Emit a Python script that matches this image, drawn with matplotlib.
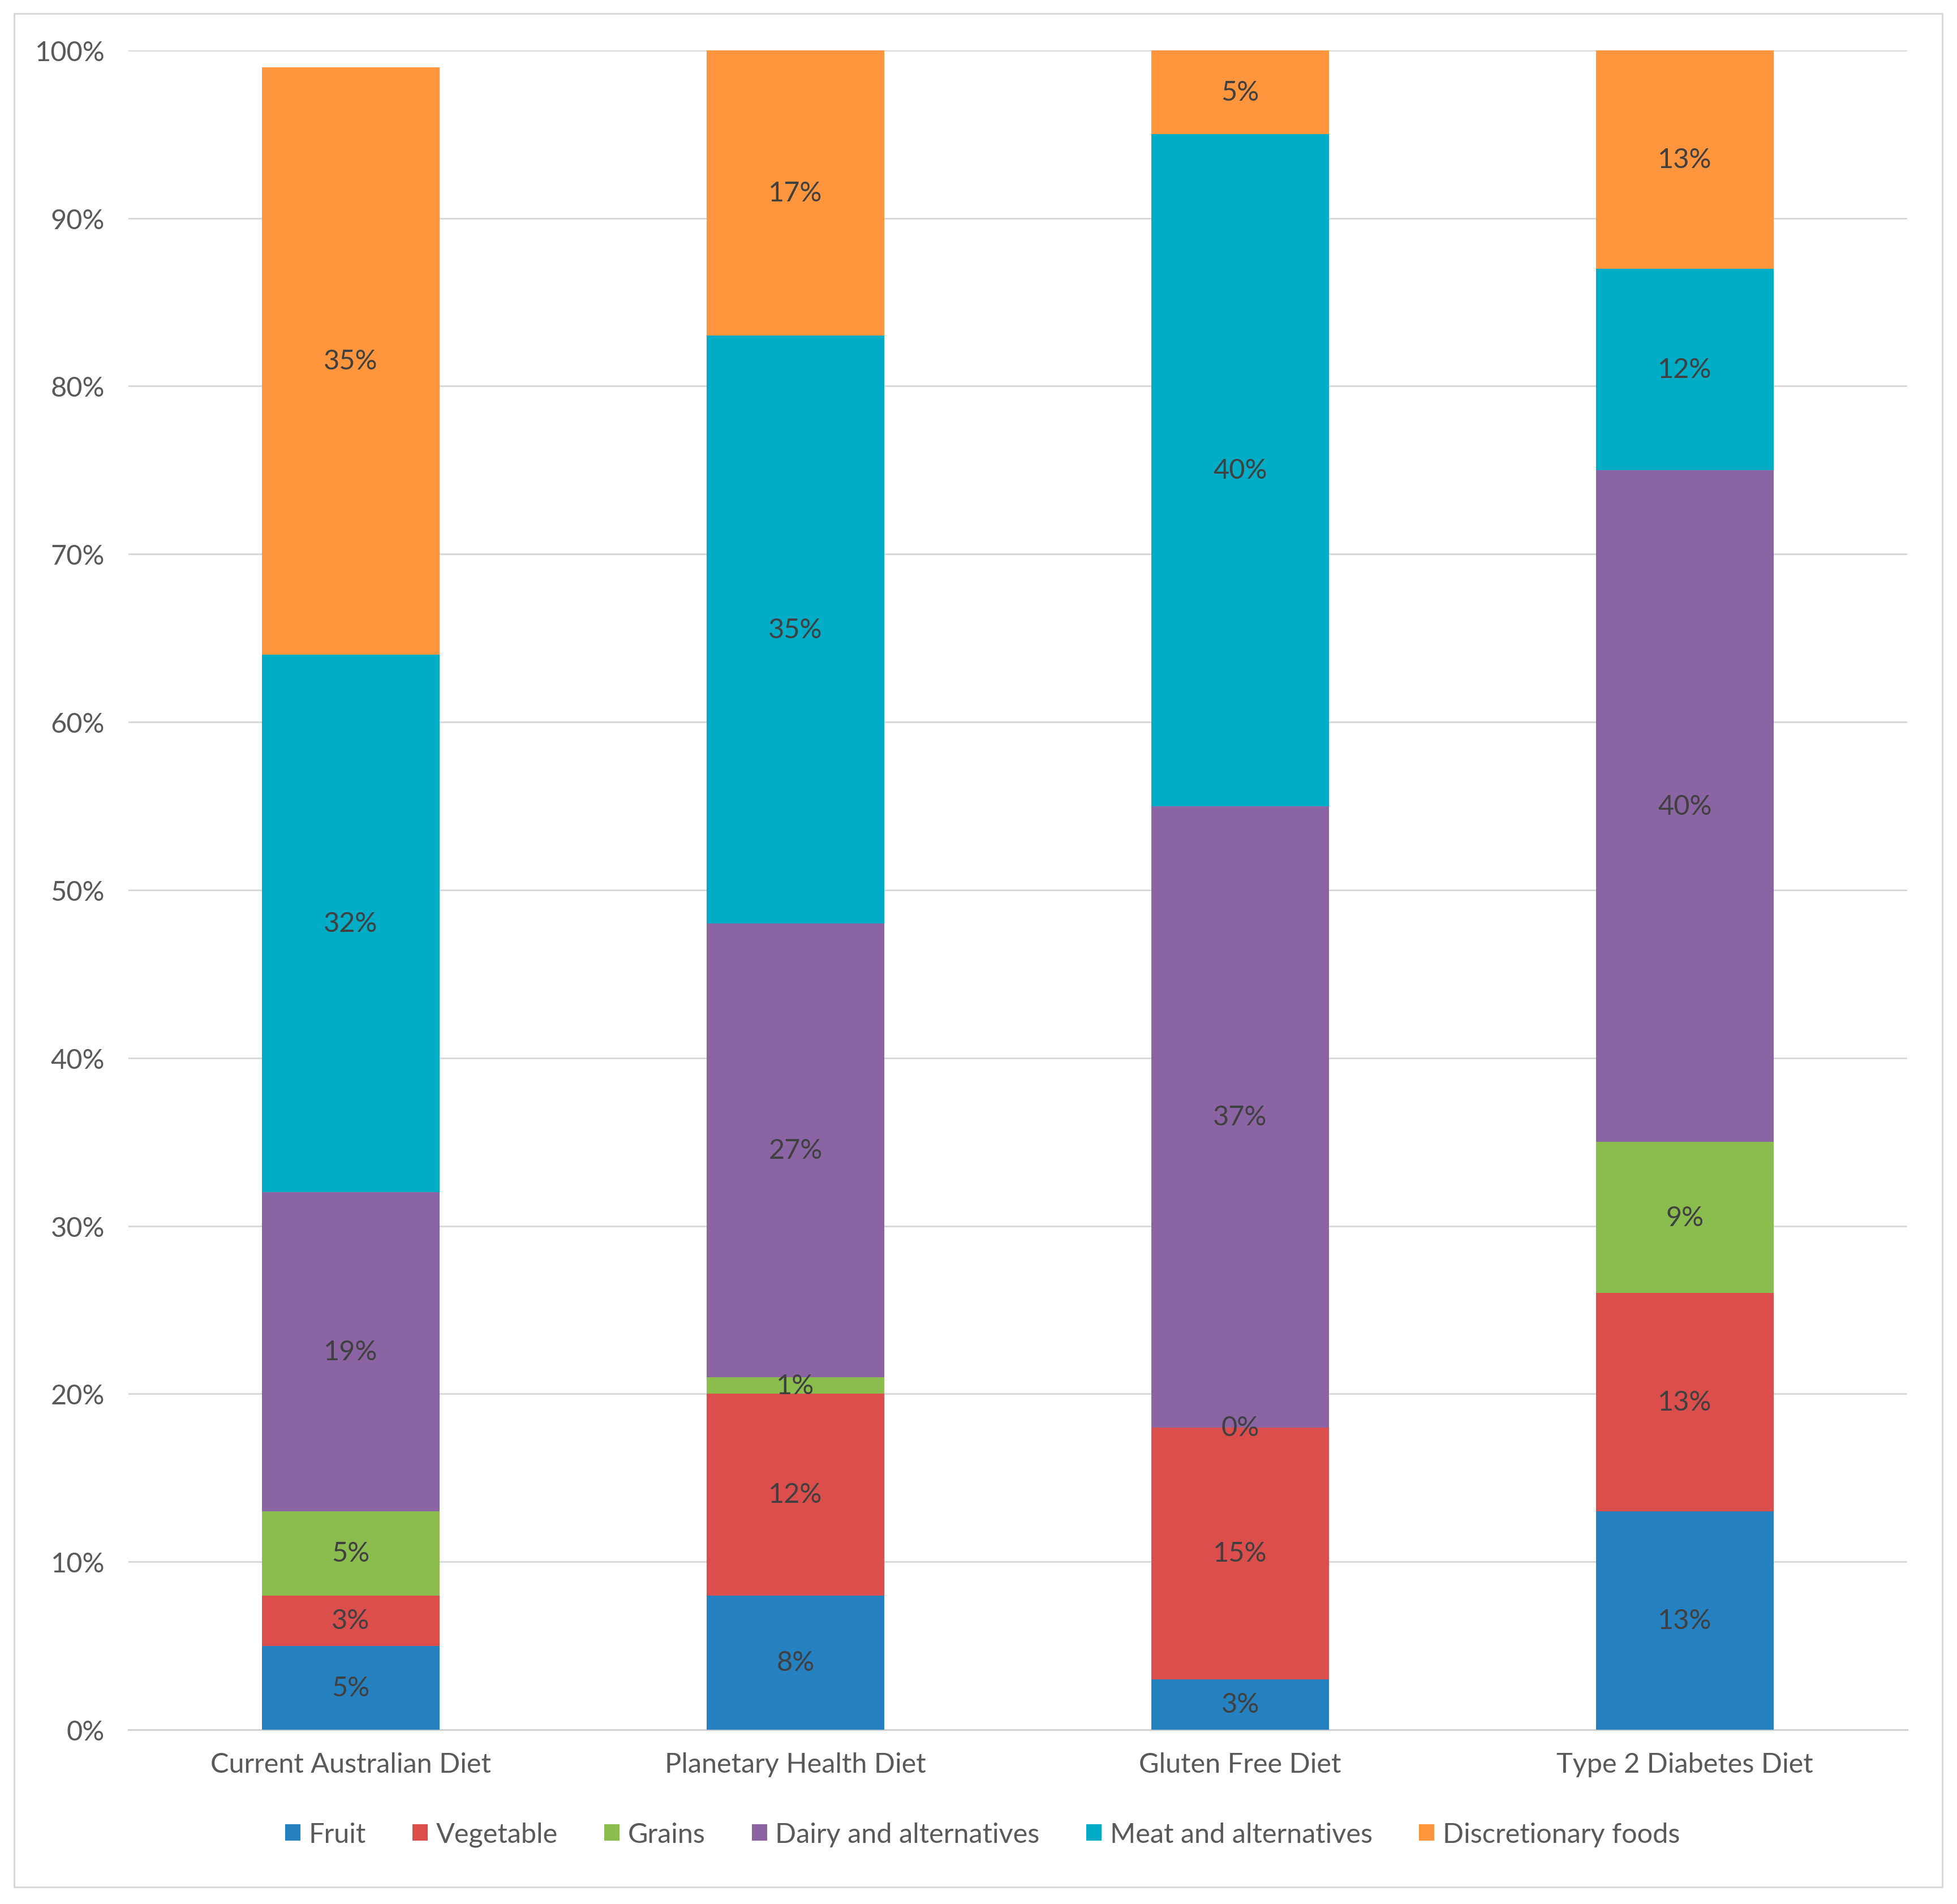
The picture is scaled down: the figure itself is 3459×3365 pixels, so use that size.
import numpy as np
import matplotlib
matplotlib.use("Agg")
import matplotlib.pyplot as plt
from matplotlib.patches import Rectangle

# Diet groups and food-group shares (%)
diets = ["Current Australian Diet", "Planetary Health Diet",
         "Gluten Free Diet", "Type 2 Diabetes Diet"]
groups = ["Fruit", "Vegetable", "Grains", "Dairy and alternatives",
          "Meat and alternatives", "Discretionary foods"]
fruit = [5, 8, 3, 13]
vegetable = [3, 12, 15, 13]
grains = [5, 1, 0, 9]
dairy = [19, 27, 37, 40]
meat = [32, 35, 40, 12]
discretionary = [35, 17, 5, 13]
colors = ["#2581C0", "#DB4E4B", "#8BBC4E", "#8B64A4", "#00ACC6", "#FF963E"]

series = [fruit, vegetable, grains, dairy, meat, discretionary]

plt.rcParams["font.family"] = ["Lato", "DejaVu Sans"]

fig = plt.figure(figsize=(34.59, 33.66), dpi=100)
ax = fig.add_axes([0.0656, 0.0915, 0.909, 0.8818])

x = np.arange(len(diets))
bottom = np.zeros(len(diets))
for name, vals, col in zip(groups, series, colors):
    vals = np.array(vals, dtype=float)
    ax.bar(x, vals, width=0.4, bottom=bottom, color=col, label=name,
           zorder=3, linewidth=0)
    for xi, b, v in zip(x, bottom, vals):
        ax.text(xi, b + v / 2, f"{int(v)}%", ha="center", va="center",
                fontsize=35, color="#404040", zorder=4)
    bottom += vals

ax.set_xlim(-0.5, 3.5)
ax.set_ylim(0, 100)
ax.set_yticks(np.arange(0, 101, 10))
ax.set_yticklabels([f"{v}%" for v in range(0, 101, 10)])
ax.set_xticks(x)
ax.set_xticklabels(diets)
ax.yaxis.grid(True, color="#D9D9D9", linewidth=2.2, zorder=0)
ax.tick_params(axis="y", length=0, pad=30, labelsize=35, labelcolor="#595959")
ax.tick_params(axis="x", length=0, pad=28, labelsize=35, labelcolor="#595959")
for s in ["top", "right", "left"]:
    ax.spines[s].set_visible(False)
ax.spines["bottom"].set_color("#D0D0D0")
ax.spines["bottom"].set_linewidth(2.2)

leg = fig.legend(loc="center", bbox_to_anchor=(0.502, 0.0365), ncol=6,
                 frameon=False, fontsize=35, handlelength=0.55,
                 handleheight=0.55, handletextpad=0.3, columnspacing=1.7)
for t in leg.get_texts():
    t.set_color("#595959")

# light frame around the whole chart
fig.patches.append(Rectangle((25 / 3459, 30 / 3366), 3408 / 3459, 3311 / 3366,
                             transform=fig.transFigure, fill=False,
                             edgecolor="#D9D9D9", linewidth=2.2))

fig.savefig("out.png", dpi=100)
